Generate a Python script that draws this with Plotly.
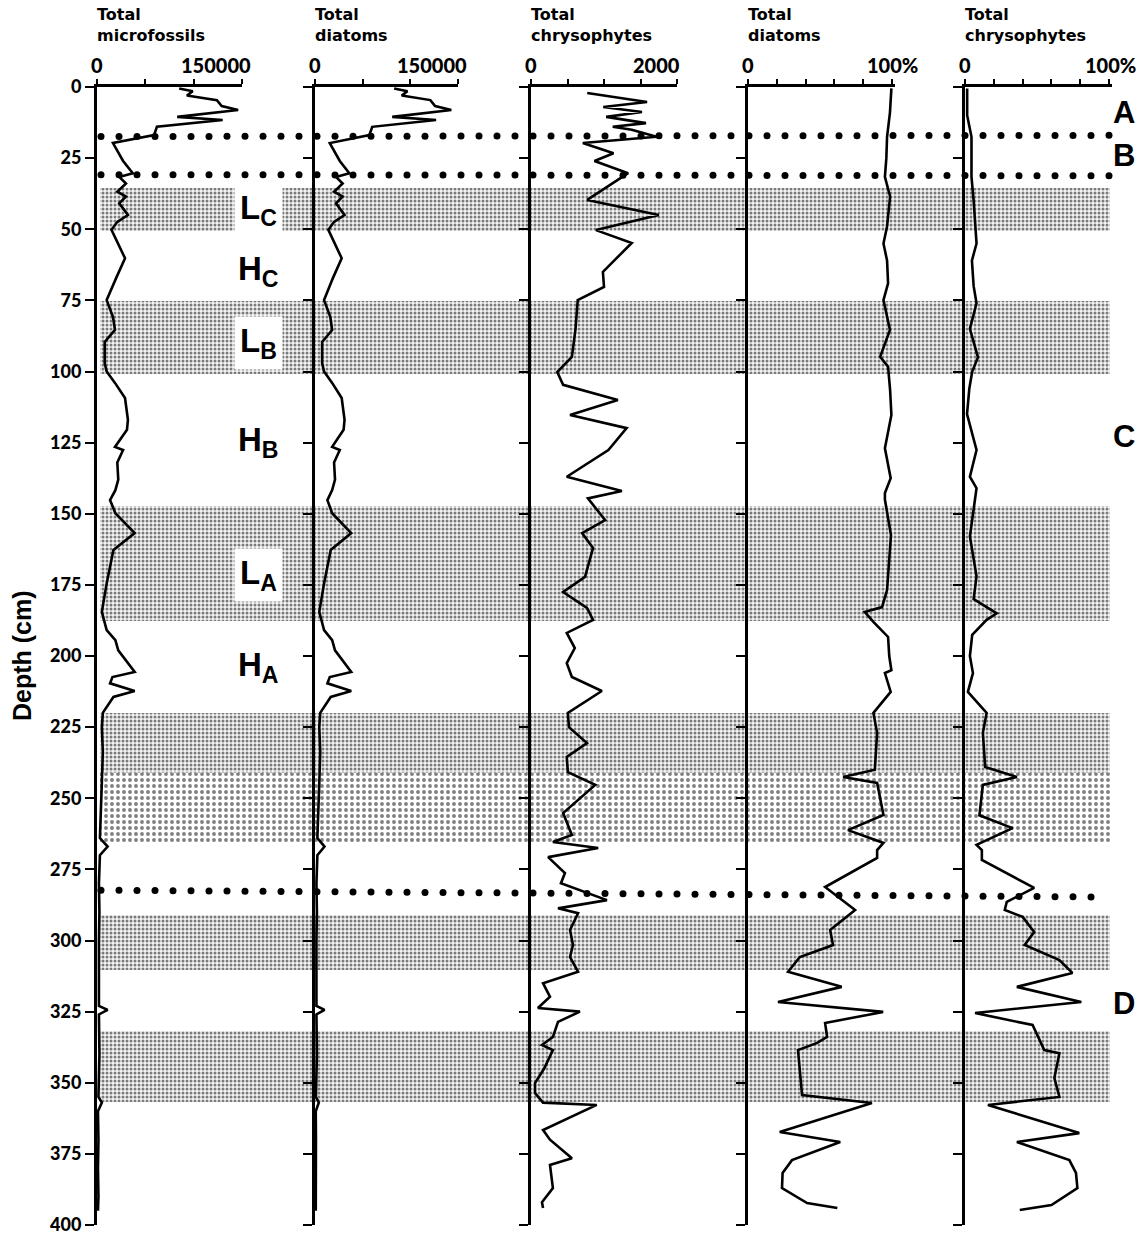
import numpy as np
import plotly.graph_objects as go

# ---------------- data ----------------
micro_depth = [0.5, 1.5, 3, 4.6, 6.7, 8.1, 10.5, 11.6, 14, 16.9, 19.7, 23.3, 26, 30.3, 31.6, 33.9,
               36.8, 38.5, 40.9, 45, 47.4, 50.2, 55, 60.2, 67, 74.9, 80.8, 85.4, 89.6, 97.1, 100,
               104, 109.3, 117, 120.5, 126.5, 127.6, 132, 138, 141.7, 145.2, 149.8, 156.8, 162.7,
               168.6, 174.5, 184.5, 190.9, 194.4, 198, 205.6, 207.4, 209.6, 212.3, 214.4, 220, 225,
               233.7, 244.6, 255, 264, 267, 270, 280, 290, 300, 310, 323, 324.4, 326, 340, 350, 355,
               357, 360, 370, 380, 390, 395]
micro_total = [85000, 99000, 93000, 124000, 129000, 146000, 83000, 130000, 62000, 59000, 16500, 22000,
               27000, 37000, 23000, 30000, 21000, 30000, 23000, 32000, 21000, 15000, 22000, 29000,
               20000, 10000, 16500, 18600, 8000, 8000, 10000, 18600, 29000, 32000, 31000, 18600, 27000,
               21000, 22000, 19000, 13500, 19000, 39000, 17000, 13500, 10000, 5000, 10000, 19000, 22000,
               39000, 16000, 13500, 39000, 17000, 6000, 5000, 6000, 5000, 4000, 3000, 11000, 3000, 2000,
               2500, 2000, 2000, 2000, 11000, 2000, 2500, 2000, 1500, 5000, 1000, 1500, 1000, 1500, 1000]
diatom_total = [83000, 97000, 91000, 121000, 126000, 143000, 81000, 127000, 60000, 57000, 15500, 21000,
                26000, 36000, 22000, 29000, 20000, 29000, 22000, 31000, 20000, 14000, 21000, 28000,
                19000, 9500, 16000, 18000, 7500, 7500, 9500, 18000, 28000, 31000, 30000, 18000, 26000,
                20000, 21000, 18000, 13000, 18000, 38000, 16500, 13000, 9500, 4500, 9500, 18000, 21000,
                38000, 15500, 13000, 38000, 16500, 5500, 4500, 5500, 4500, 3500, 2500, 10000, 2500, 1500,
                2000, 1500, 1500, 1500, 10000, 1500, 2000, 1500, 1000, 4000, 800, 1000, 800, 1000, 800]

chryso_depth = [2.1, 5.3, 7, 8.8, 10.5, 12.7, 14, 15, 17.5, 19.7, 23.3, 26, 30.3, 39.7, 45, 50.3, 54.8,
                65, 70.3, 74.9, 85, 94.9, 100.2, 104.7, 110, 115.3, 119.9, 127.6, 137, 142, 144.6,
                152.2, 156.8, 162, 172.2, 177.5, 183.1, 187.3, 191.9, 197.2, 202.5, 207.4, 212.3, 220,
                225, 230.6, 235.5, 240.8, 245.3, 255.2, 262.9, 265.4, 267.5, 270.7, 276.3, 279.9, 285.8,
                288.7, 290.4, 296.3, 301.6, 305.8, 311, 315, 319.8, 323.7, 325, 328.6, 333.9, 336.7,
                338.5, 345, 350.1, 353.6, 357, 357.8, 366.6, 370, 376.5, 378.9, 387, 392, 394]
chryso_total = [770, 1590, 990, 1520, 1030, 1575, 1120, 1380, 1720, 710, 1130, 870, 1330, 770, 1750, 890,
                1380, 985, 1000, 640, 610, 560, 360, 440, 1190, 535, 1310, 1060, 490, 1245, 780, 1015,
                700, 850, 740, 440, 767, 850, 490, 600, 490, 560, 970, 505, 520, 767, 490, 505, 880, 440,
                560, 300, 920, 235, 465, 410, 1040, 370, 645, 535, 575, 535, 645, 165, 260, 95, 670, 370,
                300, 150, 300, 180, 55, 55, 165, 900, 165, 260, 560, 260, 300, 150, 165]

diatpct_depth = [0.5, 9, 17.5, 25, 31.6, 38.5, 49, 55, 61, 69, 74.9, 85.4, 94.8, 98.3, 106.5, 115.3, 127,
                 137.5, 142.7, 145, 157.5, 176.8, 182.8, 184.5, 188, 193.3, 200, 205, 206, 212.6, 220,
                 227, 240, 242.5, 244.6, 255.9, 261.2, 265.7, 268.2, 271, 281.2, 289.3, 296.3, 301.6,
                 305.8, 311, 316.3, 321.6, 325.1, 329, 333.9, 336, 338.5, 354.3, 357.1, 367.3, 370.8,
                 377.2, 381.7, 387, 392.3, 394]
diatom_pct = [99.5, 98.5, 96.5, 96, 95, 98.6, 96.5, 94, 96.5, 97.2, 94, 98.5, 91.7, 97.2, 98.6, 99.5, 95,
              99, 95, 95, 99.2, 96.5, 93, 81, 87, 97.2, 98, 99.5, 95, 99, 87, 89.6, 88, 66, 89.6, 94,
              69.4, 94, 89.6, 89.6, 53.5, 74.3, 57, 59, 36, 27.8, 65, 20.8, 93.8, 53.5, 54.9, 48, 34.7,
              37.5, 86, 22, 64, 30.5, 24, 23.6, 41, 62]

chrypct_depth = [0.5, 10, 17.5, 31.6, 40, 55, 61, 70, 76, 85, 95, 100, 106, 115, 127.6, 137, 141, 145,
                 158, 172, 180, 185, 187.3, 192.6, 200, 206, 212.6, 220, 227, 239, 242.5, 245.3, 256,
                 260.5, 266.4, 268.2, 271.7, 281.5, 286.4, 289.3, 291.7, 297, 301.6, 306.9, 311.4, 316.3,
                 321.6, 325.5, 329.7, 338.5, 339.6, 348.3, 355, 357.8, 367.7, 370.8, 377.2, 381.7, 387,
                 393, 394.7]
chryso_pct = [1.5, 1.5, 4.5, 4.5, 6, 8, 4.8, 6, 8, 3.4, 9, 5, 3, 1.4, 8, 3.4, 8, 7, 3.4, 8, 6, 22, 15, 5,
              3.4, 5.5, 2, 15, 12.4, 14, 36, 12.4, 10, 33, 8, 11.7, 11.7, 48, 29, 27.6, 40, 48, 41.4, 65.5,
              74.5, 36, 80.7, 7, 46.9, 55, 65.5, 62, 65.5, 15.9, 79.3, 36, 72.4, 77, 78, 60, 38]

depth_ticks = list(range(0, 401, 25))

light_band_top = [35.5, 75.2, 147.3, 220.0, 291.0, 331.8]
light_band_bottom = [50.6, 100.9, 187.7, 241.0, 310.4, 356.8]
coarse_band_top = [241.0]
coarse_band_bottom = [265.7]

zone_line_left = [17.4, 30.8, 282.3]
zone_line_right = [17.0, 31.2, 284.7]

zone_labels = ['L<sub>C</sub>', 'H<sub>C</sub>', 'L<sub>B</sub>', 'H<sub>B</sub>', 'L<sub>A</sub>', 'H<sub>A</sub>']
zone_label_depth = [43.2, 64.5, 90.1, 124.8, 171.4, 204.0]
zone_label_box = [True, False, True, False, True, False]

section_labels = ['A', 'B', 'C', 'D']
section_label_depth = [9.1, 23.9, 123.0, 322.0]

panel_titles = ['Total<br>microfossils', 'Total<br>diatoms', 'Total<br>chrysophytes',
                'Total<br>diatoms', 'Total<br>chrysophytes']
panel_tick_text = [('0', '150000'), ('0', '150000'), ('0', '2000'), ('0', '100%'), ('0', '100%')]

# ---------------- layout geometry (pixels) ----------------
W, H = 1144, 1235
TOP, BOT = 87, 10
PH = H - TOP - BOT


def px(x):
    return x / W


def py(y):
    return (H - BOT - y) / PH


panels = [
    dict(lo=97, hi=242, rng=[0, 150000], tv=[0, 50000, 100000, 150000], lab=(97, 216)),
    dict(lo=315, hi=458, rng=[0, 150000], tv=[0, 50000, 100000, 150000], lab=(315, 432)),
    dict(lo=531, hi=677, rng=[0, 2000], tv=[0, 500, 1000, 1500, 2000], lab=(531, 656)),
    dict(lo=748, hi=895, rng=[0, 102], tv=[0, 20, 40, 60, 80, 100], lab=(748, 892)),
    dict(lo=965, hi=1112, rng=[0, 102], tv=[0, 20, 40, 60, 80, 100], lab=(965, 1110)),
]

series = [
    (micro_total, micro_depth),
    (diatom_total, micro_depth),
    (chryso_total, chryso_depth),
    (diatom_pct, diatpct_depth),
    (chryso_pct, chrypct_depth),
]

OX0, OX1 = 97, 1120  # overlay axis in pixel units
BAND_X0, BAND_X1 = 100, 1110

fig = go.Figure()

# shaded bands (overlay axis x / y, drawn first => underneath)
for t, b in zip(light_band_top, light_band_bottom):
    fig.add_trace(go.Scatter(
        x=[BAND_X0, BAND_X1, BAND_X1, BAND_X0, BAND_X0], y=[t, t, b, b, t],
        xaxis='x', yaxis='y', mode='lines', line=dict(width=0, color='rgba(0,0,0,0)'),
        fill='toself', fillcolor='rgba(0,0,0,0)',
        fillpattern=dict(shape='.', fgcolor='#000000', bgcolor='#f4f4f4', size=4, solidity=0.45),
        hoverinfo='skip', showlegend=False))
for t, b in zip(coarse_band_top, coarse_band_bottom):
    fig.add_trace(go.Scatter(
        x=[BAND_X0, BAND_X1, BAND_X1, BAND_X0, BAND_X0], y=[t, t, b, b, t],
        xaxis='x', yaxis='y', mode='lines', line=dict(width=0, color='rgba(0,0,0,0)'),
        fill='toself', fillcolor='rgba(0,0,0,0)',
        fillpattern=dict(shape='.', fgcolor='#000000', bgcolor='#ffffff', size=6, solidity=0.32),
        hoverinfo='skip', showlegend=False))

# dotted zone boundaries
for dl, dr, xend in zip(zone_line_left, zone_line_right, [1117, 1117, 1097]):
    xs = np.arange(101, xend + 1, 18.0)
    ys = np.linspace(dl, dr, len(xs))
    fig.add_trace(go.Scatter(x=xs, y=ys, xaxis='x', yaxis='y', mode='markers',
                             marker=dict(size=7, color='black', symbol='circle'),
                             hoverinfo='skip', showlegend=False, cliponaxis=False))

# profile curves
for i, (vals, deps) in enumerate(series):
    n = i + 2
    fig.add_trace(go.Scatter(x=vals, y=deps, xaxis=f'x{n}', yaxis=f'y{n}', mode='lines',
                             line=dict(color='black', width=2.6), hoverinfo='skip', showlegend=False))

num_font = dict(family='Lato', size=18, color='black', weight=900)

layout = dict(
    width=W, height=H, margin=dict(l=0, r=0, t=TOP, b=BOT),
    paper_bgcolor='white', plot_bgcolor='rgba(0,0,0,0)', showlegend=False,
    xaxis=dict(domain=[px(OX0), px(OX1)], range=[OX0, OX1], visible=False, fixedrange=True),
    yaxis=dict(domain=[0, 1], range=[400, 0], visible=False, fixedrange=True),
)
for i, p in enumerate(panels):
    n = i + 2
    layout[f'xaxis{n}'] = dict(domain=[px(p['lo']), px(p['hi'])], range=p['rng'], anchor=f'y{n}',
                               side='top', showline=True, linewidth=2.5, linecolor='black',
                               ticks='outside', ticklen=5, tickwidth=2, tickcolor='black',
                               tickvals=p['tv'], showticklabels=False, showgrid=False,
                               zeroline=False, fixedrange=True)
    layout[f'yaxis{n}'] = dict(domain=[0, 1], range=[400, 0], anchor=f'x{n}', showline=True,
                               linewidth=3, linecolor='black', ticks='outside', ticklen=9,
                               tickwidth=2, tickcolor='black', tickvals=depth_ticks,
                               showticklabels=(n == 2), tickfont=num_font, showgrid=False,
                               ticklabeloverflow='allow', zeroline=False, fixedrange=True)
fig.update_layout(**layout)

ann = []
# panel titles & x tick labels
for p, title, (t0, t1) in zip(panels, panel_titles, panel_tick_text):
    ann.append(dict(text=title, xref='paper', yref='paper', x=px(p['lo'] - 2), y=py(3),
                    xanchor='left', yanchor='top', align='left', showarrow=False,
                    font=dict(family='DejaVu Sans', size=16, color='black', weight='bold')))
    ann.append(dict(text=t0, xref='paper', yref='paper', x=px(p['lab'][0]), y=py(65),
                    xanchor='center', yanchor='middle', showarrow=False,
                    font=dict(family='Lato', size=20, color='black', weight=900)))
    ann.append(dict(text=t1, xref='paper', yref='paper', x=px(p['lab'][1]), y=py(65),
                    xanchor='center', yanchor='middle', showarrow=False,
                    font=dict(family='Lato', size=20, color='black', weight=900)))

# y axis title
ann.append(dict(text='Depth (cm)', xref='paper', yref='paper', x=px(22), y=py(656),
                textangle=-90, xanchor='center', yanchor='middle', showarrow=False,
                font=dict(family='Liberation Sans', size=25, color='black', weight='bold')))

# zone labels
for txt, d, box in zip(zone_labels, zone_label_depth, zone_label_box):
    ann.append(dict(text=txt, xref='x', yref='y', x=258, y=d, xanchor='center', yanchor='middle',
                    showarrow=False, bgcolor='white' if box else 'rgba(0,0,0,0)', borderpad=5,
                    font=dict(family='Liberation Sans', size=33, color='black', weight='bold')))

# section labels
for txt, d in zip(section_labels, section_label_depth):
    ann.append(dict(text=txt, xref='paper', yref='y', x=px(1124), y=d, xanchor='center',
                    yanchor='middle', showarrow=False,
                    font=dict(family='Liberation Sans', size=31, color='black', weight='bold')))

fig.update_layout(annotations=ann)
fig.write_html('out.html', config={'displayModeBar': False},
               post_script="document.body.style.margin='0px';")
